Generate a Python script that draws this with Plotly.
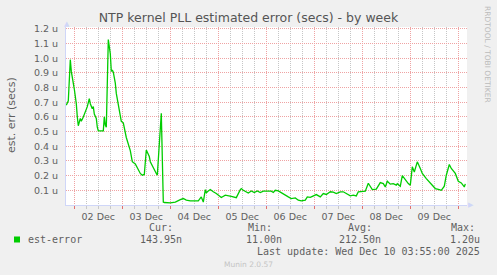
import plotly.graph_objects as go

# ---- data (est. error in microseconds) ----
times = [
    "2025-12-01 20:00", "2025-12-01 21:00", "2025-12-01 22:00", "2025-12-01 22:30",
    "2025-12-02 00:00", "2025-12-02 01:00", "2025-12-02 01:30", "2025-12-02 02:00",
    "2025-12-02 03:00", "2025-12-02 03:30", "2025-12-02 04:30", "2025-12-02 05:30",
    "2025-12-02 06:30", "2025-12-02 07:30", "2025-12-02 08:00", "2025-12-02 09:00",
    "2025-12-02 09:30", "2025-12-02 10:00", "2025-12-02 11:00", "2025-12-02 11:30",
    "2025-12-02 12:00", "2025-12-02 14:30", "2025-12-02 15:00", "2025-12-02 15:30",
    "2025-12-02 16:00", "2025-12-02 17:00", "2025-12-02 18:00", "2025-12-02 18:30",
    "2025-12-02 19:00", "2025-12-02 19:30", "2025-12-02 20:30", "2025-12-02 21:00",
    "2025-12-02 22:00", "2025-12-02 23:00", "2025-12-02 23:30", "2025-12-03 00:30",
    "2025-12-03 01:30", "2025-12-03 02:00", "2025-12-03 04:00", "2025-12-03 05:00",
    "2025-12-03 06:30", "2025-12-03 08:00", "2025-12-03 09:00", "2025-12-03 10:00",
    "2025-12-03 11:00", "2025-12-03 12:00", "2025-12-03 12:30", "2025-12-03 13:30",
    "2025-12-03 14:00", "2025-12-03 15:30", "2025-12-03 17:00", "2025-12-03 17:30",
    "2025-12-03 18:30", "2025-12-03 19:30", "2025-12-03 20:30", "2025-12-03 21:00",
    "2025-12-04 00:00", "2025-12-04 02:30", "2025-12-04 05:00", "2025-12-04 06:30",
    "2025-12-04 08:00", "2025-12-04 10:00", "2025-12-04 12:30", "2025-12-04 14:00",
    "2025-12-04 15:30", "2025-12-04 16:30", "2025-12-04 17:30", "2025-12-04 18:00",
    "2025-12-04 18:30", "2025-12-04 20:00", "2025-12-04 21:30", "2025-12-04 23:00",
    "2025-12-05 01:30", "2025-12-05 03:30", "2025-12-05 06:30", "2025-12-05 09:00",
    "2025-12-05 11:00", "2025-12-05 11:30", "2025-12-05 12:30", "2025-12-05 14:00",
    "2025-12-05 15:00", "2025-12-05 16:30", "2025-12-05 18:00", "2025-12-05 19:30",
    "2025-12-05 21:00", "2025-12-05 22:30", "2025-12-06 00:00", "2025-12-06 02:30",
    "2025-12-06 03:30", "2025-12-06 04:30", "2025-12-06 06:00", "2025-12-06 07:30",
    "2025-12-06 09:30", "2025-12-06 11:00", "2025-12-06 12:30", "2025-12-06 14:30",
    "2025-12-06 16:00", "2025-12-06 17:30", "2025-12-06 19:30", "2025-12-06 20:30",
    "2025-12-06 22:00", "2025-12-06 23:30", "2025-12-07 01:00", "2025-12-07 03:00",
    "2025-12-07 04:30", "2025-12-07 06:00", "2025-12-07 08:00", "2025-12-07 09:30",
    "2025-12-07 11:00", "2025-12-07 13:00", "2025-12-07 14:30", "2025-12-07 16:00",
    "2025-12-07 18:00", "2025-12-07 19:30", "2025-12-07 21:00", "2025-12-07 22:00",
    "2025-12-08 01:30", "2025-12-08 03:00", "2025-12-08 05:00", "2025-12-08 07:00",
    "2025-12-08 09:00", "2025-12-08 10:30", "2025-12-08 11:30", "2025-12-08 12:30",
    "2025-12-08 14:00", "2025-12-08 15:30", "2025-12-08 17:00", "2025-12-08 17:30",
    "2025-12-08 19:00", "2025-12-08 20:00", "2025-12-08 21:30", "2025-12-08 23:00",
    "2025-12-09 00:00", "2025-12-09 01:00", "2025-12-09 02:00", "2025-12-09 03:30",
    "2025-12-09 05:00", "2025-12-09 06:00", "2025-12-09 08:00", "2025-12-09 10:00",
    "2025-12-09 12:30", "2025-12-09 14:30", "2025-12-09 15:30", "2025-12-09 17:00",
    "2025-12-09 18:00", "2025-12-09 19:30", "2025-12-09 20:30", "2025-12-09 22:30",
    "2025-12-10 00:00", "2025-12-10 01:30", "2025-12-10 03:00", "2025-12-10 03:30",
]
est_error_us = [
    0.68, 0.71, 0.99, 0.91,
    0.79, 0.69, 0.60, 0.54,
    0.59, 0.57, 0.60, 0.63,
    0.67, 0.725, 0.69, 0.655,
    0.67, 0.62, 0.59, 0.53,
    0.505, 0.505, 0.60, 0.545,
    0.53, 1.127, 1.03, 0.91,
    0.92, 0.905, 0.83, 0.76,
    0.68, 0.62, 0.57, 0.56,
    0.50, 0.46, 0.37, 0.295,
    0.28, 0.24, 0.215, 0.203,
    0.208, 0.375, 0.36, 0.33,
    0.295, 0.25, 0.215, 0.203,
    0.40, 0.625, 0.02, 0.017,
    0.014, 0.02, 0.037, 0.044,
    0.033, 0.028, 0.028, 0.028,
    0.055, 0.02, 0.105, 0.082,
    0.09, 0.105, 0.09, 0.078,
    0.051, 0.067, 0.058, 0.05,
    0.105, 0.112, 0.10, 0.09,
    0.082, 0.096, 0.085, 0.096,
    0.085, 0.095, 0.094, 0.094,
    0.085, 0.10, 0.096, 0.082,
    0.067, 0.055, 0.044, 0.048,
    0.033, 0.028, 0.033, 0.055,
    0.052, 0.062, 0.071, 0.055,
    0.078, 0.072, 0.09, 0.088,
    0.078, 0.09, 0.09, 0.078,
    0.062, 0.067, 0.062, 0.09,
    0.094, 0.148, 0.105, 0.108,
    0.153, 0.146, 0.123, 0.162,
    0.142, 0.146, 0.135, 0.145,
    0.128, 0.20, 0.169, 0.146,
    0.135, 0.26, 0.225, 0.294,
    0.249, 0.215, 0.18, 0.15,
    0.112, 0.105, 0.10, 0.128,
    0.203, 0.276, 0.249, 0.215,
    0.162, 0.15, 0.123, 0.144,
]
y_tick_values = [0.1, 0.2, 0.3, 0.4, 0.5, 0.6, 0.7, 0.8, 0.9, 1.0, 1.1, 1.2]
y_tick_labels = ["0.1 u", "0.2 u", "0.3 u", "0.4 u", "0.5 u", "0.6 u",
                 "0.7 u", "0.8 u", "0.9 u", "1.0 u", "1.1 u", "1.2 u"]
series_name = "est-error"
stat_names = ["Cur:", "Min:", "Avg:", "Max:"]
stat_values = ["143.95n", "11.00n", "212.50n", "1.20u"]
last_update = "Last update: Wed Dec 10 03:55:00 2025"

# ---- layout geometry (pixels) ----
W, H = 497, 275
ML, MR, MT, MB = 66, 30, 27, 70
PW, PH = W - ML - MR, H - MT - MB

def px(x):
    return (x - ML) / PW

def py(y):
    return (H - MB - y) / PH

FONT = "DejaVu Sans"
MONO = "DejaVu Sans Mono"
TXT = "#5f5f5f"
GREEN = "#00CC00"
AXIS = "#CFD6F8"
MGRID = "#EFA3A3"
GRID = "#C6C6C6"
DOTS = "1px,1px"

fig = go.Figure()
fig.add_trace(go.Scatter(x=times, y=est_error_us, mode="lines",
                         line=dict(color=GREEN, width=1.3), name=series_name,
                         showlegend=False))

fig.update_layout(
    width=W, height=H,
    margin=dict(l=ML, r=MR, t=MT, b=MB),
    paper_bgcolor="#F0F0F0", plot_bgcolor="#FFFFFF",
    font=dict(family=FONT, color=TXT, size=9.5),
    title=dict(text="NTP kernel PLL estimated error (secs) - by week",
               x=0.5, xref="container", xanchor="center",
               y=1 - 18 / H, yref="container", yanchor="middle",
               font=dict(family=FONT, size=12.5, color="#555555")),
)

fig.update_xaxes(
    type="date",
    range=["2025-12-01 19:51", "2025-12-10 04:21"],
    tick0="2025-12-02 00:00", dtick=86400000,
    ticklabelmode="period", tickformat="%d %b",
    ticks="outside", ticklen=3, tickcolor="#E07070", tickwidth=1,
    showgrid=True, gridcolor=MGRID, griddash=DOTS, gridwidth=1,
    minor=dict(dtick=6 * 3600000, ticks="outside", ticklen=3,
               tickcolor="#C8C8C8", showgrid=True, gridcolor=GRID,
               griddash=DOTS, gridwidth=1),
    showline=True, linecolor=AXIS, linewidth=1,
    zeroline=False, fixedrange=True,
    tickfont=dict(family=FONT, size=9.5, color=TXT),
)
fig.update_yaxes(
    range=[0, PH / 146.8],
    tickvals=y_tick_values, ticktext=y_tick_labels,
    ticks="", ticklabelstandoff=5,
    showgrid=True, gridcolor=MGRID, griddash=DOTS, gridwidth=1,
    showline=True, linecolor=AXIS, linewidth=1,
    zeroline=False,
    tickfont=dict(family=FONT, size=9.5, color=TXT),
)

ann = []
# y-axis title
ann.append(dict(text="est. err (secs)", x=px(11), y=py(115), xref="paper", yref="paper",
                showarrow=False, textangle=-90, xanchor="center", yanchor="middle",
                font=dict(family=FONT, size=11, color=TXT)))
# rrdtool credit
ann.append(dict(text="RRDTOOL / TOBI OETIKER", x=px(488), y=py(54), xref="paper", yref="paper",
                showarrow=False, textangle=90, xanchor="center", yanchor="middle",
                font=dict(family=FONT, size=7.5, color="#BBBBBB")))
# axis arrows
ann.append(dict(text="▲", x=px(66.5), y=py(24), xref="paper", yref="paper", showarrow=False,
                xanchor="center", yanchor="middle", font=dict(size=7, color=AXIS)))
ann.append(dict(text="▶", x=px(471), y=py(205), xref="paper", yref="paper", showarrow=False,
                xanchor="center", yanchor="middle", font=dict(size=7, color=AXIS)))
# legend
ann.append(dict(text=series_name, x=px(26), y=py(239.5), xref="paper", yref="paper",
                showarrow=False, xanchor="left", yanchor="middle",
                font=dict(family=MONO, size=10, color=TXT)))
stat_centers = [160.5, 260, 360, 463]
stat_val_right = [184, 284, 383, 482]
for name, val, cx, rx in zip(stat_names, stat_values, stat_centers, stat_val_right):
    ann.append(dict(text=name, x=px(cx), y=py(227.5), xref="paper", yref="paper",
                    showarrow=False, xanchor="center", yanchor="middle",
                    font=dict(family=MONO, size=10, color=TXT)))
    ann.append(dict(text=val, x=px(rx), y=py(239.5), xref="paper", yref="paper",
                    showarrow=False, xanchor="right", yanchor="middle",
                    font=dict(family=MONO, size=10, color=TXT)))
ann.append(dict(text=last_update, x=px(482), y=py(251.5), xref="paper", yref="paper",
                showarrow=False, xanchor="right", yanchor="middle",
                font=dict(family=MONO, size=10, color=TXT)))
ann.append(dict(text="Munin 2.0.57", x=px(248), y=py(264.5), xref="paper", yref="paper",
                showarrow=False, xanchor="center", yanchor="middle",
                font=dict(family=FONT, size=7.5, color="#C4C4C4")))
fig.update_layout(annotations=ann)

# legend colour box
fig.add_shape(type="rect", xref="paper", yref="paper",
              x0=px(14), x1=px(20), y0=py(242.5), y1=py(236.5),
              fillcolor=GREEN, line=dict(width=0))

fig.write_html("out.html")
